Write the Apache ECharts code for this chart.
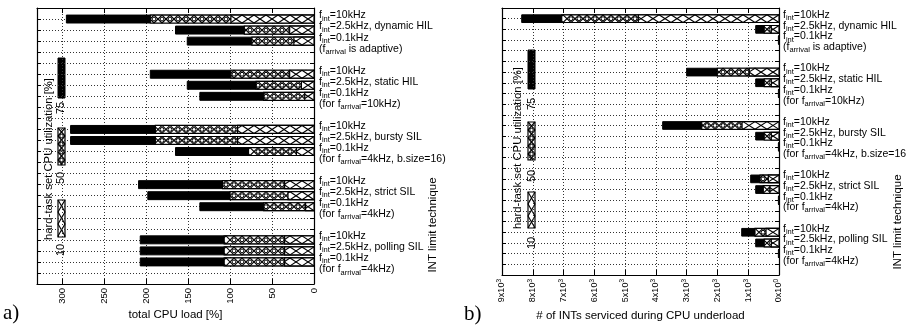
<!DOCTYPE html>
<html><head><meta charset="utf-8">
<script src="https://cdn.jsdelivr.net/npm/echarts@6/dist/echarts.min.js"></script>
<style>html,body{margin:0;padding:0;background:#fff}#c{width:906px;height:335px}</style>
</head><body><div id="c"></div>
<script>
// ---------------- data ----------------
const barRows = [0,1,2, 5,6,7, 10,11,12, 15,16,17, 20,21,22];
// panel a) total CPU load [%] for hard-task utilization 75 / 50 / 10 %
const loadU75 = [295,165,151, 195,151,136, 290,290,165, 209,198,136, 207,207,207];
const loadU50 = [195,83,74,   99,69,60,    189,189,78,  109,100,60,  107,107,107];
const loadU10 = [99,29,24,    29,15,11,    91,91,21,    35,31,10,    35,35,35];
// panel b) # of INTs serviced during CPU underload
const intsU75 = [8360,757,20, 3000,757,20, 3780,757,20, 920,757,20, 1212,757,20];
const intsU50 = [7060,480,12, 2005,480,12, 2510,480,12, 617,510,12, 780,480,12];
const intsU10 = [4570,250,6,  965,250,6,   1200,250,6,  347,292,6,  422,250,6];
const intFreqs = ['10kHz','2.5kHz','0.1kHz'];
const techniques = ['dynamic HIL','static HIL','bursty SIL','strict SIL','polling SIL'];
const arrivalNotes = [['(',' is adaptive)'],['(for ','=10kHz)'],['(for ','=4kHz, b.size=16)'],['(for ','=4kHz)'],['(for ','=4kHz)']];
const utilLevels = ['75','50','10'];
const xTicksA = [0,50,100,150,200,250,300];
const xTicksB = [0,1000,2000,3000,4000,5000,6000,7000,8000,9000];

const FONT = 'Liberation Sans, Arial, Helvetica, sans-serif';

// ---------------- pattern drawing ----------------
function patternEls(x, y, w, h, kind, vertical) {
  const els = [];
  if (w <= 0 || h <= 0) return els;
  if (kind === 'solid') {
    els.push({type:'rect', shape:{x:x,y:y,width:w,height:h}, style:{fill:'#000', stroke:'#000', lineWidth:1}});
    return els;
  }
  els.push({type:'rect', shape:{x:x,y:y,width:w,height:h}, style:{fill:'#fff'}});
  const L = vertical ? h : w, T = vertical ? w : h;
  const p = kind === 'x' ? 12 : 8;
  const map = vertical ? (u,v) => [x + v, y + u] : (u,v) => [x + w - u, y + v];
  function seg(ua, va, ub, vb) {
    if (ua >= L) return;
    if (ub > L) { vb = va + (vb - va) * (L - ua) / (ub - ua); ub = L; }
    const a = map(ua, va), b = map(ub, vb);
    els.push({type:'line', shape:{x1:a[0],y1:a[1],x2:b[0],y2:b[1]}, style:{stroke:'#000', lineWidth:1.15}});
  }
  for (let u0 = 0; u0 < L; u0 += p) {
    seg(u0, 0, u0 + p, T);
    seg(u0, T, u0 + p, 0);
  }
  if (kind === 'c') {
    const r = Math.min(1.9, T * 0.25);
    for (let u0 = p; u0 < L - r; u0 += p) {
      const c = map(u0, T / 2);
      els.push({type:'circle', shape:{cx:c[0], cy:c[1], r:r}, style:{fill:'#fff', stroke:'#000', lineWidth:1}});
    }
  }
  els.push({type:'rect', shape:{x:x,y:y,width:w,height:h}, style:{fill:null, stroke:'#000', lineWidth:1.2}});
  return els;
}

function makeRender(kind) {
  return function (params, api) {
    const row = api.value(0), val = api.value(1);
    const p0 = api.coord([0, row]);
    const p1 = api.coord([val, row]);
    const h = api.size([0, 1])[1] * 0.72;
    const xl = Math.min(p0[0], p1[0]), xr = Math.max(p0[0], p1[0]);
    return {type:'group', children: patternEls(xl, p0[1] - h / 2, xr - xl, h, kind, false)};
  };
}

function rowLabel(v) {
  if (v < 0 || v > 23) return '';
  const g = Math.floor(v / 5), r = v % 5;
  if (r < 3) {
    let s = '{m|f}{s|int}{m|=' + intFreqs[r];
    if (r === 1) s += ', ' + techniques[g];
    return s + '}';
  }
  if (r === 3) return '{m|' + arrivalNotes[g][0] + 'f}{s|arrival}{m|' + arrivalNotes[g][1] + '}';
  return '';
}

const rowRich = {
  m: {fontSize: 10.5, lineHeight: 14, fontFamily: FONT, color: '#000'},
  s: {fontSize: 7.5, lineHeight: 7, verticalAlign: 'bottom', fontFamily: FONT, color: '#000'}
};

const dotted = {show: true, lineStyle: {color: '#333', width: 1, type: [1, 2]}};
const frameLine = {show: true, onZero: false, lineStyle: {color: '#000', width: 1.2}};

function xAxes(grid, max, interval, formatter, rich, name, nameGap) {
  return [
    {type:'value', gridIndex:grid, position:'bottom', inverse:true, min:0, max:max, interval:interval,
     axisLine:frameLine, axisTick:{show:true, inside:true, length:5, lineStyle:{color:'#000'}},
     axisLabel:{show:true, rotate:90, margin:4, fontSize:9.5, color:'#000', fontFamily:FONT, formatter:formatter, rich:rich},
     splitLine:dotted, name:name, nameLocation:'middle', nameGap:nameGap, nameMoveOverlap:false,
     nameTextStyle:{fontSize:11.5, color:'#000', fontFamily:FONT}},
    {type:'value', gridIndex:grid, position:'top', inverse:true, min:0, max:max, interval:interval,
     axisLine:frameLine, axisTick:{show:true, inside:true, length:5, lineStyle:{color:'#000'}},
     axisLabel:{show:false}, splitLine:{show:false}}
  ];
}
function yAxes(grid, margin) {
  return [
    {type:'value', gridIndex:grid, position:'left', inverse:true, min:-1, max:24, interval:1,
     axisLine:frameLine, axisTick:{show:true, inside:true, length:4, lineStyle:{color:'#000'}},
     axisLabel:{show:false}, splitLine:dotted},
    {type:'value', gridIndex:grid, position:'right', inverse:true, min:-1, max:24, interval:1,
     axisLine:frameLine, axisTick:{show:true, inside:true, length:4, lineStyle:{color:'#000'}},
     axisLabel:{show:true, margin:margin, formatter:rowLabel, rich:rowRich, padding:[0,0,7,0], color:'#000'},
     splitLine:{show:false}}
  ];
}

const fmtA = v => (xTicksA.indexOf(v) >= 0 ? String(v) : '');
const fmtB = v => {
  if (xTicksB.indexOf(v) < 0) return '';
  return v === 0 ? '{m|0x10}{p|0}' : '{m|' + (v / 1000) + 'x10}{p|3}';
};
const supRich = {
  m: {fontSize: 9, lineHeight: 12, fontFamily: FONT, color: '#000'},
  p: {fontSize: 6.5, lineHeight: 6.5, verticalAlign: 'top', fontFamily: FONT, color: '#000'}
};

function customSeries(xi, yi, vals, kind) {
  return {type:'custom', xAxisIndex:xi, yAxisIndex:yi, clip:true, renderItem:makeRender(kind),
    encode:{x:1, y:0}, data: barRows.map((r, i) => [r, vals[i]]), silent:true, animation:false};
}

// ---------------- key (rotated legend) ----------------
function keyGraphic(k) {
  const ch = [];
  ch.push({type:'rect', shape:{x:k.bx, y:k.by, width:k.bw, height:k.bh}, style:{fill:'#fff'}});
  ch.push({type:'text', x:k.lx, y:k.ly, rotation:Math.PI/2,
    style:{text:'hard-task set CPU utilization [%]', fontSize:11.3, fontFamily:FONT, fill:'#000', align:'center', verticalAlign:'middle'}});
  const kinds = ['solid','c','x'];
  for (let i = 0; i < 3; i++) {
    patternEls(k.sx, k.samples[i][0], 7, k.samples[i][1] - k.samples[i][0], kinds[i], true).forEach(e => ch.push(e));
    ch.push({type:'text', x:k.tx, y:k.texts[i], rotation:Math.PI/2,
      style:{text:utilLevels[i], fontSize:11, fontFamily:FONT, fill:'#000', align:'center', verticalAlign:'middle'}});
  }
  return {type:'group', z:100, children:ch};
}

const chart = echarts.init(document.getElementById('c'), null, {renderer:'canvas'});
chart.setOption({
  animation:false,
  backgroundColor:'#fff',
  grid:[
    {left:37, top:8, width:277, height:276, outerBoundsMode:'none', containLabel:false},
    {left:502, top:8, width:277, height:267, outerBoundsMode:'none', containLabel:false}
  ],
  xAxis:[].concat(
    xAxes(0, 330, 50, fmtA, {}, 'total CPU load [%]', 25),
    xAxes(1, 9000, 1000, fmtB, supRich, '# of INTs serviced during CPU underload', 35)
  ),
  yAxis:[].concat(yAxes(0, 5), yAxes(1, 4)),
  series:[
    customSeries(0, 0, loadU75, 'solid'),
    customSeries(0, 0, loadU50, 'c'),
    customSeries(0, 0, loadU10, 'x'),
    customSeries(2, 2, intsU75, 'solid'),
    customSeries(2, 2, intsU50, 'c'),
    customSeries(2, 2, intsU10, 'x')
  ],
  graphic:[
    keyGraphic({bx:40, by:46, bw:26, bh:211, lx:49, ly:159, sx:58, tx:61,
      samples:[[58,98],[128,165],[200,237]], texts:[108,178,250]}),
    keyGraphic({bx:509, by:44, bw:29, bh:204, lx:518, ly:148, sx:528, tx:532,
      samples:[[50,89],[122,160],[192,228]], texts:[104,176,243]}),
    {type:'text', x:433, y:225, rotation:Math.PI/2, z:100,
      style:{text:'INT limit technique', fontSize:11.5, fontFamily:FONT, fill:'#000', align:'center', verticalAlign:'middle'}},
    {type:'text', x:898, y:222, rotation:Math.PI/2, z:100,
      style:{text:'INT limit technique', fontSize:11.5, fontFamily:FONT, fill:'#000', align:'center', verticalAlign:'middle'}},
    {type:'text', x:3, y:313, z:100,
      style:{text:'a)', fontSize:21, fontFamily:'Liberation Serif, DejaVu Serif, serif', fill:'#000', align:'left', verticalAlign:'middle'}},
    {type:'text', x:464, y:314, z:100,
      style:{text:'b)', fontSize:21, fontFamily:'Liberation Serif, DejaVu Serif, serif', fill:'#000', align:'left', verticalAlign:'middle'}}
  ]
});
</script></body></html>
